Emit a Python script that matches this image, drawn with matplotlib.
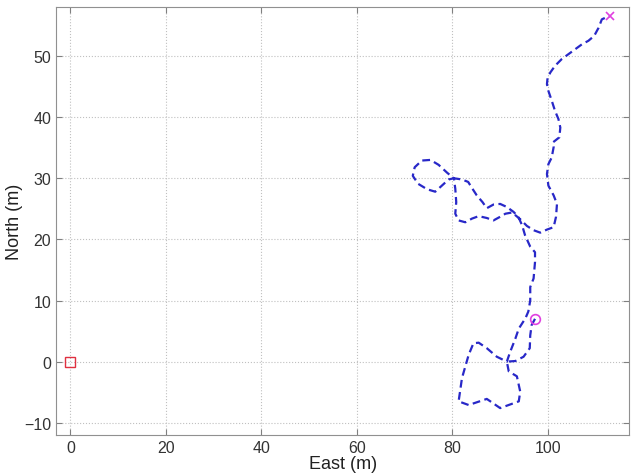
import numpy as np
import matplotlib
matplotlib.use('Agg')
import matplotlib.pyplot as plt

plt.rcParams['font.family'] = ['Liberation Sans', 'DejaVu Sans']

# path east / north (m), start at the circle
east = [97.3, 96.6, 96.3, 96.2, 94.9, 93.2, 91.4,
        91.8, 93.5, 94.2, 93.9, 90.0, 87.2, 83.4, 81.3, 82.0, 83.4, 84.4,
        85.5, 87.2, 89.3, 91.4,
        92.1, 93.2, 93.9, 95.3, 95.9, 96.3, 96.3, 97.0, 97.3, 97.3, 96.3,
        95.2, 94.6, 93.8,
        92.8, 91.4, 90.0, 88.6, 87.2, 86.3, 85.1, 84.1, 83.3, 82.0, 80.3,
        78.9, 77.1, 75.4, 73.6, 72.1, 71.7, 72.8, 74.7, 76.4, 77.8, 79.2, 80.3,
        80.6, 80.8, 80.6, 81.3, 82.7, 84.1, 85.5, 87.2, 88.6, 90.0, 91.1,
        92.5, 94.2, 95.6, 97.0, 98.4, 99.8, 101.2, 101.7, 101.9, 101.2,
        100.1, 99.8, 100.1, 100.8, 101.2, 101.1, 102.4, 102.6, 102.2, 101.5,
        100.8, 100.1, 99.8, 99.9, 100.5, 101.5, 102.9, 104.3, 105.7, 107.1,
        108.5, 109.7, 110.6, 111.3, 112.7, 113.0]
north = [7.0, 6.0, 4.3, 2.2, 0.8, 0.1, 0.0,
         -1.6, -2.4, -4.9, -6.5, -7.6, -6.1, -7.1, -6.5, -2.7, 1.1, 3.0,
         3.1, 2.2, 0.8, 0.0,
         1.6, 3.8, 5.4, 7.1, 8.2, 10.0, 12.2, 13.6, 16.3, 17.9, 18.8,
         20.7, 22.3, 23.7,
         24.5, 25.3, 25.8, 25.7, 25.1, 26.1, 27.2, 28.4, 29.4, 29.8, 30.0,
         30.9, 32.2, 33.0, 32.9, 31.8, 30.4, 29.1, 28.2, 27.8, 28.8, 29.8, 30.0,
         28.3, 26.1, 24.2, 23.1, 22.8, 23.4, 23.8, 23.5, 23.1, 23.7, 24.2,
         24.4, 23.3, 22.2, 21.5, 21.1, 21.6, 22.0, 23.7, 25.8, 27.2,
         28.8, 30.7, 32.3, 33.4, 35.1, 35.9, 36.7, 38.3, 39.7, 41.0,
         42.7, 44.3, 45.4, 46.2, 47.3, 48.4, 49.5, 50.3, 51.1, 51.9,
         52.5, 53.3, 54.6, 56.0, 56.5, 56.5]

origin = (0, 0)
start = (97.3, 7.0)
goal = (113.0, 56.5)

fig = plt.figure(figsize=(6.38, 4.77), dpi=100)
ax = fig.add_axes([0.088, 0.086, 0.898, 0.897])

ax.plot(east, north, '--', color='#2828c8', lw=1.6, dashes=(3.5, 2))
ax.plot(origin[0], origin[1], 's', mfc='none', mec='#e03040', ms=7, mew=1)
ax.plot(start[0], start[1], 'o', mfc='none', mec='#e040e0', ms=7, mew=1.2)
ax.plot(goal[0], goal[1], 'x', color='#e040e0', ms=6, mew=1.2)

ax.set_xlim(-3, 117)
ax.set_ylim(-12, 58)
ax.set_xticks(np.arange(0, 101, 20))
ax.set_yticks(np.arange(-10, 51, 10))
ax.grid(True, ls=':', color='#c0c0c0', lw=0.8)
ax.tick_params(direction='in', length=4, color='#808080', labelsize=11.5,
               labelcolor='#333333', top=True, right=True)
for s in ax.spines.values():
    s.set_color('#909090')
ax.set_xlabel('East (m)', fontsize=13, color='#222222', labelpad=0)
ax.set_ylabel('North (m)', fontsize=13, color='#222222', labelpad=1)

fig.savefig('out.png', dpi=100)
